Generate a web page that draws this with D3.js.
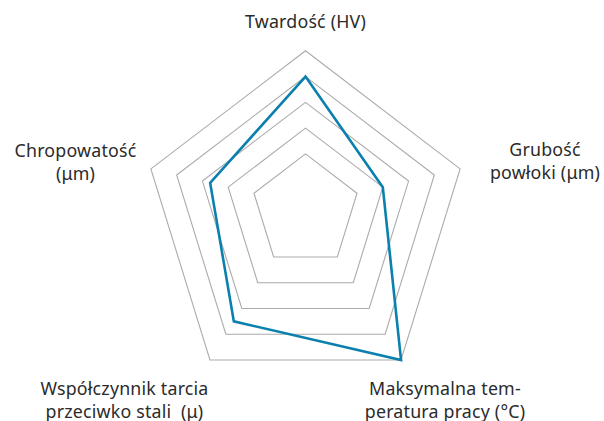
<!DOCTYPE html>
<html>
<head>
<meta charset="utf-8">
<script src="https://cdn.jsdelivr.net/npm/d3@7"></script>
<style>
  html, body { margin: 0; padding: 0; background: #fff; }
  svg text { font-family: "Noto Sans", sans-serif; fill: #2b2b2b; font-size: 17.8px; letter-spacing: 0.2px; white-space: pre; }
</style>
</head>
<body>
<div id="chart"></div>
<script>
// axes go clockwise from the top
const axes = ['Twardość (HV)', 'Grubość powłoki (μm)', 'Maksymalna temperatura pracy (°C)',
  'Współczynnik tarcia przeciwko stali (μ)', 'Chropowatość (μm)'];
const labelLines = [
  ['Twardość (HV)'],
  ['Grubość', 'powłoki (μm)'],
  ['Maksymalna tem-', 'peratura pracy (°C)'],
  ['Współczynnik tarcia', 'przeciwko stali  (μ)'],
  ['Chropowatość', '(μm)']
];
const values = [5, 3, 6, 4.5, 3.7];
const levels = [2, 3, 4, 5, 6];

const width = 604;
const height = 421;
const cx = 305.5;
const cy = 205.4;
const gridColour = '#ababab';
const lineColour = '#0b80ae';

const svg = d3.select('#chart').append('svg')
  .attr('width', width)
  .attr('height', height);

const r = d3.scaleLinear().domain([0, 6]).range([0, 154.6]);
const angle = d3.scaleLinear().domain([0, axes.length]).range([0, 2 * Math.PI]);

// pentagon squeezed into a square box, so unit directions are normalised to it
const dir = i => {
  const a = angle(i);
  return [Math.sin(a) / Math.sin(2 * Math.PI / 5), (-Math.cos(a) + 0.0955) / 0.9045];
};
const point = (i, v) => [cx + dir(i)[0] * r(v), cy + dir(i)[1] * r(v)];

const line = d3.line().curve(d3.curveLinearClosed);

svg.append('g')
  .selectAll('path')
  .data(levels)
  .join('path')
  .attr('d', lv => line(axes.map((_, i) => point(i, lv))))
  .attr('fill', 'none')
  .attr('stroke', gridColour)
  .attr('stroke-width', 1.1);

svg.append('path')
  .attr('d', line(values.map((v, i) => point(i, v))))
  .attr('fill', 'none')
  .attr('stroke', lineColour)
  .attr('stroke-width', 2.6)
  .attr('stroke-linejoin', 'miter');

// label anchors (centre x, first baseline)
const labelPos = [[305.5, 28], [545, 156], [445, 395], [124.5, 395], [75.5, 157]];
const labels = svg.append('g');
labelLines.forEach((lines, i) => {
  const t = labels.append('text')
    .attr('x', labelPos[i][0])
    .attr('y', labelPos[i][1])
    .attr('text-anchor', 'middle');
  lines.forEach((s, j) => {
    t.append('tspan')
      .attr('x', labelPos[i][0])
      .attr('dy', j === 0 ? 0 : 22.5)
      .text(s);
  });
});
</script>
</body>
</html>
